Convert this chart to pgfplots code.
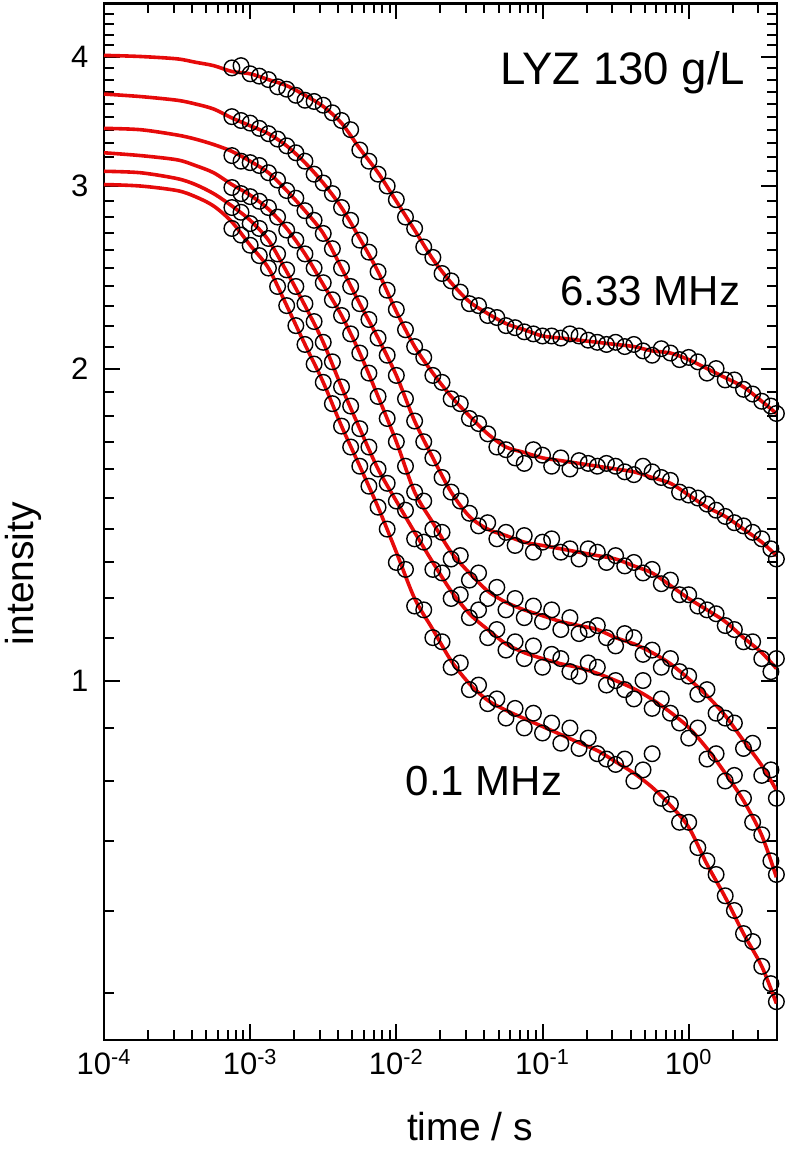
\documentclass[border=0pt]{standalone}
\usepackage{fontspec}
\setmainfont{Liberation Sans}
\usepackage{pgfplots}
\usepackage{pgfplotstable}
\pgfplotsset{compat=1.18}
\definecolor{fitred}{RGB}{230,10,10}
\newcommand{\tlfont}{\fontsize{15.5}{18}\selectfont}

% measured points: time / s, six frequencies (s1 = 6.33 MHz ... s6 = 0.1 MHz)
\pgfplotstableread{
t s1 s2 s3 s4 s5 s6
7.499e-4 3.90 3.50 3.21 2.99 2.86 2.73
8.660e-4 3.92 3.47 3.17 2.95 2.83 2.69
1.000e-3 3.85 3.45 3.16 2.93 2.76 2.63
1.155e-3 3.83 3.41 3.14 2.90 2.73 2.57
1.334e-3 3.80 3.37 3.09 2.86 2.67 2.50
1.540e-3 3.74 3.33 3.04 2.80 2.58 2.40
1.778e-3 3.72 3.28 2.97 2.72 2.49 2.30
2.054e-3 3.67 3.23 2.92 2.66 2.40 2.20
2.371e-3 3.63 3.17 2.84 2.58 2.31 2.11
2.738e-3 3.62 3.08 2.78 2.50 2.22 2.02
3.162e-3 3.59 3.02 2.70 2.42 2.12 1.94
3.652e-3 3.53 2.95 2.61 2.33 2.03 1.85
4.217e-3 3.47 2.86 2.50 2.25 1.92 1.76
4.870e-3 3.40 2.78 2.40 2.16 1.84 1.68
5.623e-3 3.25 2.66 2.31 2.07 1.75 1.61
6.494e-3 3.17 2.59 2.23 1.98 1.68 1.54
7.499e-3 3.08 2.48 2.14 1.88 1.60 1.47
8.660e-3 3.00 2.38 2.06 1.79 1.55 1.40
1.000e-2 2.91 2.28 1.97 1.70 1.49 1.30
1.155e-2 2.80 2.18 1.87 1.61 1.46 1.28
1.334e-2 2.73 2.10 1.78 1.52 1.37 1.18
1.540e-2 2.62 2.05 1.70 1.49 1.36 1.17
1.778e-2 2.56 1.97 1.64 1.40 1.28 1.10
2.054e-2 2.47 1.94 1.57 1.39 1.27 1.09
2.371e-2 2.43 1.87 1.52 1.31 1.20 1.03
2.738e-2 2.37 1.85 1.49 1.32 1.21 1.04
3.162e-2 2.31 1.79 1.45 1.25 1.15 0.98
3.652e-2 2.30 1.77 1.41 1.27 1.17 0.99
4.217e-2 2.25 1.73 1.42 1.20 1.10 0.95
4.870e-2 2.24 1.68 1.37 1.23 1.12 0.96
5.623e-2 2.20 1.67 1.39 1.17 1.07 0.92
6.494e-2 2.19 1.64 1.35 1.20 1.09 0.94
7.499e-2 2.17 1.62 1.38 1.15 1.05 0.90
8.660e-2 2.16 1.67 1.33 1.18 1.08 0.93
0.1000 2.15 1.65 1.36 1.14 1.03 0.89
0.1155 2.15 1.61 1.37 1.17 1.06 0.91
0.1334 2.14 1.64 1.33 1.12 1.05 0.87
0.1540 2.16 1.60 1.34 1.15 1.02 0.90
0.1778 2.15 1.63 1.31 1.11 1.01 0.86
0.2054 2.13 1.62 1.34 1.12 1.04 0.88
0.2371 2.12 1.61 1.33 1.13 1.03 0.85
0.2738 2.11 1.62 1.30 1.10 0.99 0.84
0.3162 2.12 1.61 1.32 1.08 1.00 0.83
0.3652 2.10 1.59 1.29 1.11 0.98 0.84
0.4217 2.11 1.58 1.30 1.10 0.96 0.80
0.4870 2.08 1.61 1.27 1.06 1.00 0.82
0.5623 2.06 1.59 1.28 1.07 0.94 0.85
0.6494 2.09 1.57 1.24 1.03 0.96 0.77
0.7499 2.07 1.56 1.25 1.05 0.93 0.76
0.8660 2.04 1.52 1.21 1.02 0.91 0.73
1.000 2.05 1.51 1.21 1.01 0.88 0.73
1.155 2.03 1.50 1.18 0.97 0.90 0.69
1.334 1.98 1.48 1.17 0.98 0.84 0.67
1.540 2.00 1.46 1.16 0.93 0.85 0.65
1.778 1.95 1.44 1.13 0.92 0.80 0.62
2.054 1.95 1.42 1.12 0.91 0.81 0.60
2.371 1.91 1.41 1.09 0.86 0.77 0.57
2.738 1.89 1.39 1.09 0.87 0.73 0.56
3.162 1.86 1.37 1.05 0.81 0.71 0.53
3.652 1.84 1.34 1.02 0.82 0.67 0.51
3.981 1.81 1.31 1.05 0.77 0.65 0.49
}\datatab

% fitted curves
\pgfplotstableread{
t f1 f2 f3 f4 f5 f6
1e-4 4.01 3.68 3.41 3.23 3.10 3.01
1.778e-4 4.00 3.66 3.40 3.21 3.09 3.00
3.162e-4 3.98 3.63 3.36 3.18 3.05 2.97
4.217e-4 3.95 3.60 3.33 3.14 3.01 2.93
5.623e-4 3.92 3.56 3.29 3.09 2.95 2.87
7.499e-4 3.87 3.49 3.24 3.01 2.87 2.77
1e-3 3.85 3.43 3.17 2.94 2.78 2.63
1.334e-3 3.80 3.37 3.09 2.85 2.66 2.50
1.778e-3 3.75 3.28 2.97 2.73 2.48 2.30
2.371e-3 3.67 3.16 2.84 2.58 2.30 2.11
3.162e-3 3.58 3.02 2.70 2.41 2.12 1.94
4.217e-3 3.45 2.86 2.50 2.25 1.92 1.76
5.623e-3 3.26 2.67 2.31 2.07 1.75 1.61
7.499e-3 3.09 2.48 2.14 1.88 1.60 1.47
1e-2 2.90 2.27 1.97 1.70 1.49 1.33
1.334e-2 2.72 2.10 1.78 1.52 1.39 1.20
1.778e-2 2.55 1.98 1.64 1.42 1.30 1.12
2.371e-2 2.42 1.88 1.52 1.33 1.22 1.045
3.162e-2 2.32 1.80 1.44 1.27 1.16 0.993
4.217e-2 2.26 1.73 1.40 1.22 1.12 0.957
5.623e-2 2.21 1.68 1.38 1.19 1.085 0.936
7.499e-2 2.18 1.66 1.36 1.17 1.064 0.919
0.1 2.15 1.64 1.35 1.155 1.05 0.903
0.1334 2.14 1.63 1.34 1.14 1.038 0.887
0.1778 2.13 1.62 1.33 1.13 1.029 0.871
0.2371 2.12 1.61 1.32 1.12 1.016 0.856
0.3162 2.11 1.60 1.31 1.10 1.00 0.835
0.4217 2.10 1.59 1.29 1.085 0.982 0.814
0.5623 2.08 1.57 1.27 1.064 0.959 0.789
0.7499 2.07 1.55 1.235 1.038 0.932 0.758
1 2.04 1.51 1.20 1.004 0.901 0.722
1.334 2.00 1.47 1.17 0.967 0.860 0.665
1.778 1.96 1.44 1.14 0.925 0.814 0.618
2.371 1.92 1.40 1.10 0.875 0.766 0.570
3.162 1.86 1.36 1.064 0.828 0.709 0.530
3.981 1.81 1.32 1.027 0.784 0.646 0.488
}\fittab

\begin{document}
\begin{tikzpicture}
\path[use as bounding box] (-52pt,-57.5pt) rectangle (343pt,520pt);
\begin{axis}[
  at={(0,0)}, anchor=south west,
  scale only axis, width=336.35pt, height=518.25pt,
  xmode=log, ymode=log, log basis x=10, log basis y=10,
  xmin=1e-4, xmax=4, ymin=0.45, ymax=4.5,
  axis line style={line width=1.1pt},
  every tick/.style={line width=1pt, black},
  tick align=inside,
  major tick length=8pt, minor tick length=5pt,
  xtick={1e-4,1e-3,1e-2,1e-1,1},
  xticklabels={10\textsuperscript{-4},10\textsuperscript{-3},10\textsuperscript{-2},10\textsuperscript{-1},10\textsuperscript{0}},
  minor xtick={2e-4,3e-4,4e-4,5e-4,6e-4,7e-4,8e-4,9e-4,
               2e-3,3e-3,4e-3,5e-3,6e-3,7e-3,8e-3,9e-3,
               2e-2,3e-2,4e-2,5e-2,6e-2,7e-2,8e-2,9e-2,
               0.2,0.3,0.4,0.5,0.6,0.7,0.8,0.9,2,3},
  ytick={1,2,3,4}, yticklabels={1,2,3,4},
  minor ytick={0.5,0.6,0.7,0.8,0.9,1.1,1.2,1.3,1.4,1.5,1.6,1.7,1.8,1.9,
               2.1,2.2,2.3,2.4,2.5,2.6,2.7,2.8,2.9,3.1,3.2,3.3,3.4,3.5,3.6,3.7,3.8,3.9,
               4.1,4.2,4.3,4.4},
  xticklabel style={font=\tlfont, yshift=-1pt},
  yticklabel style={font=\tlfont, xshift=-4.3pt},
  xlabel={time / s}, ylabel={intensity},
  label style={font=\fontsize{19.5}{23}\selectfont},
  xlabel style={at={(axis description cs:0.544,0)}, anchor=base, yshift=-50pt},
  ylabel style={at={(axis description cs:0,0.45)}, anchor=base, yshift=35pt},
]
\foreach \c in {s1,s2,s3,s4,s5,s6}{
  \addplot[only marks, mark=o, mark size=3.9pt, mark options={line width=0.7pt, black}]
    table[x=t, y=\c] {\datatab};
}
\foreach \c in {f1,f2,f3,f4,f5,f6}{
  \addplot[fitred, line width=1.8pt, smooth, no markers] table[x=t, y=\c] {\fittab};
}
\node[anchor=base east, inner sep=0pt, font=\fontsize{22.8}{26}\selectfont] at (axis cs:2.45,3.76) {LYZ 130 g/L};
\node[anchor=base east, inner sep=0pt, font=\fontsize{21}{25}\selectfont] at (axis cs:2.27,2.30) {6.33 MHz};
\node[anchor=base west, inner sep=0pt, font=\fontsize{21}{25}\selectfont] at (axis cs:0.01153,0.775) {0.1 MHz};
\end{axis}
\end{tikzpicture}
\end{document}
